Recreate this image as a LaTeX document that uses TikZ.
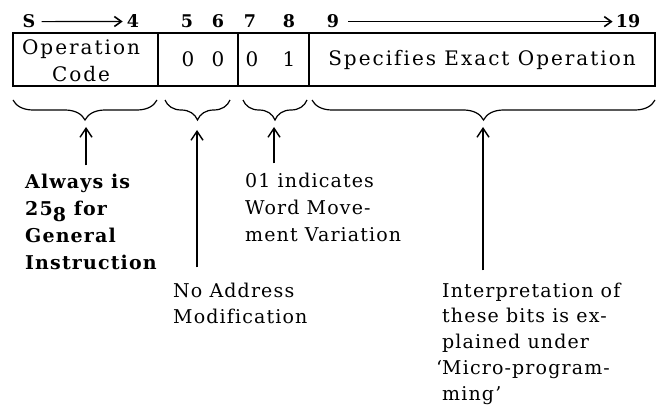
\documentclass[tikz,border=0pt]{standalone}
\usepackage{fontspec}
\setmainfont{DejaVu Serif}
\newfontfamily\boxfont[LetterSpace=10,Ligatures=NoCommon]{DejaVu Serif}
\newfontfamily\notefont[LetterSpace=6,Ligatures=NoCommon]{DejaVu Serif}
\usetikzlibrary{arrows.meta,decorations.pathreplacing}
\begin{document}
\begin{tikzpicture}[x=1pt,y=-1pt,
  cell/.style={draw, line width=1.3pt, inner sep=0, minimum height=53pt},
  hd/.style={font=\fontsize{17.5}{20}\selectfont\bfseries, anchor=base, inner sep=0},
  bx/.style={font=\boxfont\fontsize{20}{27}\selectfont, anchor=base, inner sep=0, align=center},
  txt/.style={align=left, anchor=base west, inner sep=0},
  brc/.style={decorate, decoration={brace, mirror, amplitude=20pt}, line width=1.2pt},
  arr/.style={-{Straight Barb[length=9pt,width=12pt,line width=1.4pt]}, line width=1.3pt},
  harr/.style={-{Straight Barb[length=7pt,width=10pt,line width=1.6pt]}, line width=1.2pt}]
\useasboundingbox (0,0) rectangle (660,406);
% header
\node[hd] (hS) at (29,28) {S};
\node[hd] (h4) at (133,28) {4};
\node[hd] (h5) at (187,28) {5};
\node[hd] (h6) at (218,28) {6};
\node[hd] (h7) at (250,28) {7};
\node[hd] (h8) at (289,28) {8};
\node[hd] (h9) at (333,28) {9};
\node[hd] (h19) at (628,28) {19};
\draw[harr, shorten <=6pt, shorten >=4pt] (hS.east) -- (h4.west);
\draw[harr, shorten <=9pt, shorten >=3pt] (h9.east) -- (h19.west);
% word cells
\node[cell, minimum width=145pt] (c1) at (85.5,59.5) {};
\node[cell, minimum width=80pt] (c2) at (198,59.5) {};
\node[cell, minimum width=71pt] (c3) at (273.5,59.5) {};
\node[cell, minimum width=346pt] (c4) at (482,59.5) {};
\node[bx] (op) at (81,82) {Operation\\Code};
\node[bx] (z5) at (188,67) {0};
\node[bx] (z6) at (218,67) {0};
\node[bx] (z7) at (252,67) {0};
\node[bx] (z8) at (289,67) {1};
\node[bx] (spec) at (482,66) {Specifies Exact Operation};
% braces
\draw[brc] (13,100) -- (157,100);
\draw[brc] (165,100) -- (230,100);
\draw[brc] (243,100) -- (307,100);
\draw[brc] (312,100) -- (655,100);
\coordinate (b1) at (86,127);
\coordinate (b2) at (197,130);
\coordinate (b3) at (274,127);
\coordinate (b4) at (483,127);
% texts
\node[txt, font=\notefont\fontsize{19}{27}\selectfont\bfseries] (t1) at (25,269) {Always is\\25\raisebox{-6pt}{8} for\\General\\Instruction};
\node[txt, font=\notefont\fontsize{19}{27}\selectfont] (t3) at (245,241) {01 indicates\\Word Move-\\ment Variation};
\node[txt, font=\notefont\fontsize{19}{26}\selectfont] (t2) at (173,323) {No Address\\Modification};
\node[txt, font=\notefont\fontsize{19}{25.75}\selectfont] (t4) at (442,400) {Interpretation of\\these bits is ex-\\plained under\\\llap{‘}Micro-program-\\ming’};
% arrows
\draw[arr, shorten <=8pt] (t1.north -| b1) -- (b1);
\draw[arr, shorten <=15pt] (t2.north -| b2) -- (b2);
\draw[arr, shorten <=9pt] (t3.north -| b3) -- (b3);
\draw[arr, shorten <=12pt] (t4.north -| b4) -- (b4);
\end{tikzpicture}
\end{document}
